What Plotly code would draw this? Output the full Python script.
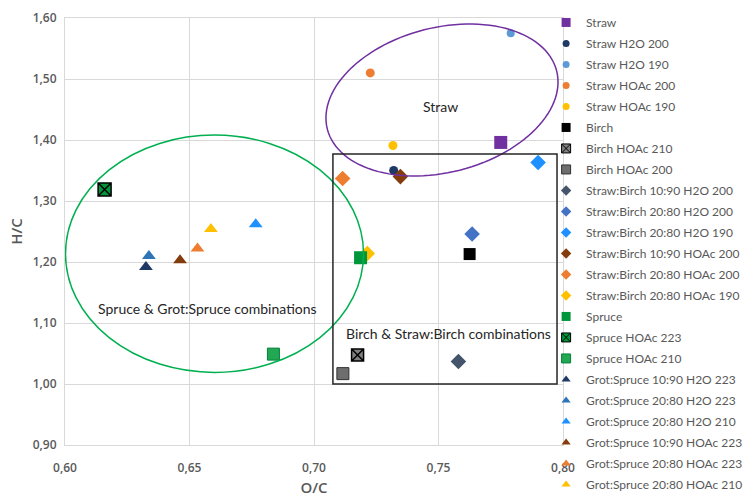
import numpy as np
import plotly.graph_objects as go

names = ["Straw", "Straw H2O 200", "Straw H2O 190", "Straw HOAc 200", "Straw HOAc 190",
         "Birch", "Birch HOAc 210", "Birch HOAc 200",
         "Straw:Birch 10:90 H2O 200", "Straw:Birch 20:80 H2O 200", "Straw:Birch 20:80 H2O 190",
         "Straw:Birch 10:90 HOAc 200", "Straw:Birch 20:80 HOAc 200", "Straw:Birch 20:80 HOAc 190",
         "Spruce", "Spruce HOAc 223", "Spruce HOAc 210",
         "Grot:Spruce 10:90 H2O 223", "Grot:Spruce 20:80 H2O 223", "Grot:Spruce 20:80 H2O 210",
         "Grot:Spruce 10:90 HOAc 223", "Grot:Spruce 20:80 HOAc 223", "Grot:Spruce 20:80 HOAc 210"]
oc = [0.775, 0.732, 0.779, 0.7226, 0.7317,
      0.7625, 0.7175, 0.7116,
      0.758, 0.7635, 0.790,
      0.7347, 0.7115, 0.7214,
      0.7187, 0.6159, 0.6837,
      0.6325, 0.6337, 0.6766,
      0.6462, 0.6532, 0.6586]
hc = [1.396, 1.350, 1.575, 1.510, 1.391,
      1.213, 1.0475, 1.017,
      1.037, 1.246, 1.363,
      1.340, 1.337, 1.214,
      1.207, 1.319, 1.049,
      1.192, 1.210, 1.262,
      1.203, 1.222, 1.254]
symbols = ["square", "circle", "circle", "circle", "circle",
           "square", "square-x", "square",
           "diamond", "diamond", "diamond", "diamond", "diamond", "diamond",
           "square", "square-x", "square",
           "triangle-up", "triangle-up", "triangle-up", "triangle-up", "triangle-up", "triangle-up"]
colors = ["#7030A0", "#1F3864", "#5B9BD5", "#ED7D31", "#FFC000",
          "#000000", "#808080", "#6E6E6E",
          "#44546A", "#4472C4", "#1E90FF", "#843C0C", "#ED7D31", "#FFC000",
          "#00963C", "#00963C", "#22A852",
          "#1F3864", "#2E75B6", "#1E90FF", "#843C0C", "#ED7D31", "#FFC000"]
line_colors = [None, None, None, None, None,
               None, "#000000", "#303030",
               None, None, None, None, None, None,
               None, "#000000", "#00803A",
               None, None, None, None, None, None]
sizes = [13, 9, 8, 9, 9,
         12, 12, 12,
         12, 12, 12, 12, 12, 12,
         13, 13, 12,
         12, 12, 12, 12, 12, 12]
legend_sizes = [9, 7, 7, 7, 7,
                9, 9, 9,
                8, 8, 8, 8, 8, 8,
                9, 9, 9,
                8, 8, 8, 8, 8, 8]

x_ticks = [0.60, 0.65, 0.70, 0.75, 0.80]
y_ticks = [0.90, 1.00, 1.10, 1.20, 1.30, 1.40, 1.50, 1.60]

# annotation shapes (data coordinates)
straw_ellipse = dict(cx=0.7514, cy=1.4656, a_px=118.3, b_px=72.4, angle_deg=14.25)
spruce_ellipse = dict(x0=0.6002, x1=0.7199, y0=1.019, y1=1.408)
birch_box = dict(x0=0.7076, x1=0.7976, y0=1.0, y1=1.377)

W, H = 744, 497
ML, MR, MT, MB = 65, 181, 18, 52
px_x = (W - ML - MR) / (x_ticks[-1] - x_ticks[0])
px_y = (H - MT - MB) / (y_ticks[-1] - y_ticks[0])

fig = go.Figure()
for i, (n, x, y, s, c, lc, sz, lsz) in enumerate(zip(names, oc, hc, symbols, colors,
                                                       line_colors, sizes, legend_sizes)):
    mk = dict(symbol=s, color=c, size=sz)
    lmk = dict(symbol=s, color=c, size=lsz)
    if lc:
        w = 1.5 if s.endswith("-x") else 1
        mk["line"] = dict(color=lc, width=w)
        lmk["line"] = dict(color=lc, width=1)
    else:
        mk["line"] = dict(width=0)
        lmk["line"] = dict(width=0)
    # plotted point
    fig.add_trace(go.Scatter(x=[x], y=[y], mode="markers", name=n, marker=mk,
                             showlegend=False, legendgroup=f"g{i}"))
    # legend entry with small symbol
    fig.add_trace(go.Scatter(x=[None], y=[None], mode="markers", name=n, marker=lmk,
                             showlegend=True, legendgroup=f"g{i}"))

# rotated ellipse path
t = np.linspace(0, 2 * np.pi, 121)
th = np.deg2rad(straw_ellipse["angle_deg"])
ex = straw_ellipse["a_px"] * np.cos(t)
ey = straw_ellipse["b_px"] * np.sin(t)
rx = ex * np.cos(th) - ey * np.sin(th)
ry = ex * np.sin(th) + ey * np.cos(th)
xs = straw_ellipse["cx"] + rx / px_x
ys = straw_ellipse["cy"] + ry / px_y
path = "M " + " L ".join(f"{a:.5f},{b:.5f}" for a, b in zip(xs, ys)) + " Z"
fig.add_shape(type="path", path=path, line=dict(color="#7030A0", width=1.5), layer="above")
fig.add_shape(type="circle", **spruce_ellipse, line=dict(color="#00B050", width=1.5), layer="above")
fig.add_shape(type="rect", **birch_box, line=dict(color="#262626", width=1.5), layer="above")

ann_font = dict(family="Lato", size=14, color="#262626")
fig.add_annotation(x=0.7509, y=1.4557, text="Straw", showarrow=False, font=ann_font)
fig.add_annotation(x=0.7542, y=1.082, text="Birch & Straw:Birch combinations", showarrow=False, font=ann_font)
fig.add_annotation(x=0.6572, y=1.123, text="Spruce & Grot:Spruce combinations", showarrow=False, font=ann_font)

tick_font = dict(family="Open Sans", size=12, color="#595959", weight=600)
title_font = dict(family="Open Sans", size=15, color="#595959", weight=600)
axis_common = dict(showgrid=True, gridcolor="#D9D9D9", gridwidth=1, zeroline=False,
                   showline=True, linecolor="#D9D9D9", mirror=True, ticks="",
                   tickformat=".2f", tickfont=tick_font)
fig.update_xaxes(range=[x_ticks[0], x_ticks[-1]], tickvals=x_ticks, ticklabelstandoff=12,
                 title=dict(text="O/C", font=title_font, standoff=8), **axis_common)
fig.update_yaxes(range=[y_ticks[0], y_ticks[-1]], tickvals=y_ticks, ticklabelstandoff=5,
                 title=dict(text="H/C", font=title_font, standoff=6), **axis_common)

fig.update_layout(
    width=W, height=H,
    margin=dict(l=ML, r=MR, t=MT, b=MB, autoexpand=False),
    paper_bgcolor="white", plot_bgcolor="white",
    separators=",.",
    showlegend=True,
    legend=dict(xref="container", yref="container", x=0.734, xanchor="left",
                y=0.984, yanchor="top", maxheight=1,
                font=dict(family="Lato", size=12, color="#595959"),
                bgcolor="rgba(0,0,0,0)", tracegroupgap=2, itemsizing="trace"),
)

fig.write_html("out.html")
